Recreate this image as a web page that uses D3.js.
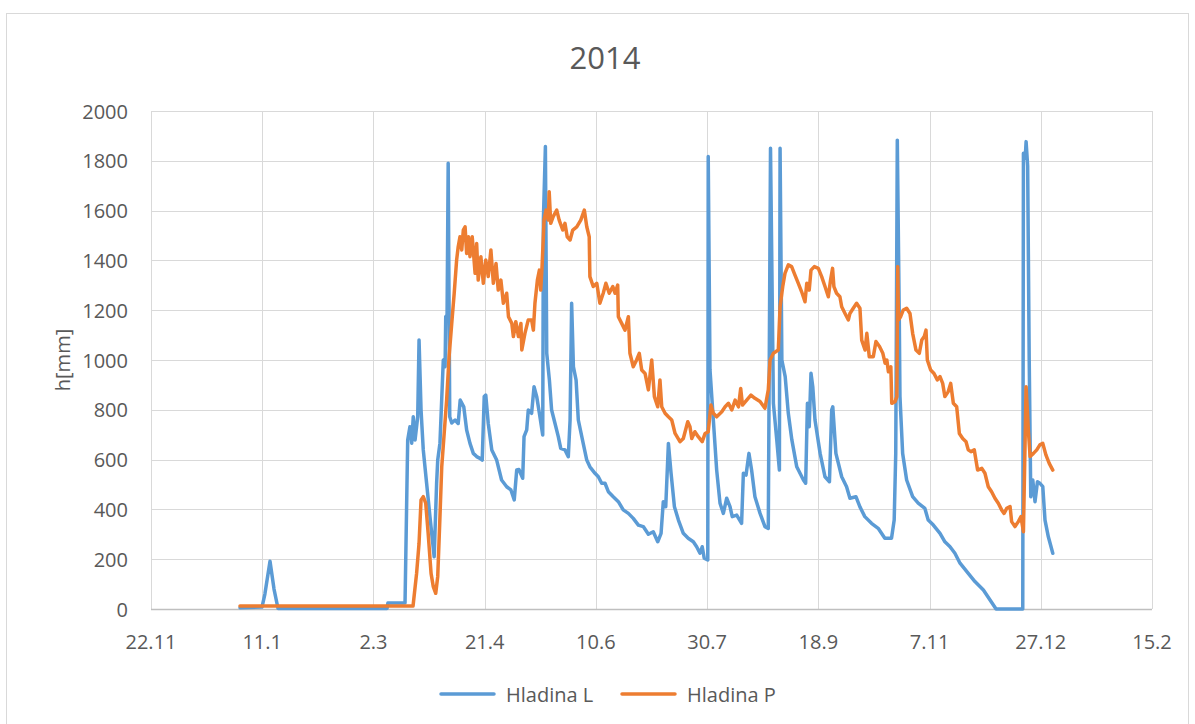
<!DOCTYPE html>
<html>
<head>
<meta charset="utf-8">
<script src="https://cdn.jsdelivr.net/npm/d3@7"></script>
<style>
  html, body { margin: 0; padding: 0; background: #ffffff; }
  svg { display: block; }
  text { font-family: "Open Sans", "Noto Sans", sans-serif; fill: #595959; }
</style>
</head>
<body>
<svg id="chart" width="1195" height="724"></svg>
<script>
// Water levels in 2014, day offset from 1 January 2014 and level in mm
const hladinaL = [[0,5],[9.9,8],[11.2,60],[13.5,192],[15.3,80],[17.1,2],[66.1,2],[66.5,24],[74.2,24],[75.4,679],[76.4,732],[77.2,666],[77.9,772],[78.7,679],[79.9,772],[80.5,1080],[81.4,799],[82.4,639],[83.9,505],[85.4,371],[87.3,210],[88.4,505],[88.9,598],[89.9,666],[91.4,1000],[92.2,973],[92.5,1174],[93.1,1180],[93.6,1790],[94.3,772],[95.2,747],[96.7,759],[98.1,745],[99.0,839],[100.6,812],[101.9,719],[103.4,665],[104.9,625],[106.4,612],[107.9,605],[108.9,598],[109.8,853],[110.5,859],[111.6,746],[113.2,639],[115.4,598],[117.6,518],[119.9,491],[121.8,478],[123.3,438],[124.4,558],[125.4,560],[127.1,525],[127.7,692],[128.9,719],[129.6,799],[131.1,786],[132.2,893],[133.4,853],[134.6,786],[136.1,699],[136.4,1562],[137.3,1857],[137.9,1027],[139.1,919],[140.1,799],[141.6,746],[143.1,692],[144.2,645],[146.1,639],[147.6,612],[148.4,759],[149.1,1228],[149.9,973],[151.1,919],[152.1,759],[154.3,665],[155.9,598],[157.3,571],[159.6,545],[161.1,531],[162.6,505],[164.1,505],[165.6,471],[167.8,451],[170.1,431],[172.3,398],[174.6,384],[176.8,364],[179.1,337],[181.3,331],[183.6,300],[185.8,310],[187.8,270],[189.3,304],[190.3,431],[191.4,411],[192.6,665],[193.8,545],[195.3,411],[197.1,357],[199.3,304],[201.5,284],[203.8,270],[205.3,250],[206.8,224],[207.8,250],[208.7,204],[210.3,197],[210.5,1817],[211.3,960],[212.8,759],[214.3,558],[215.8,425],[217.3,384],[218.8,445],[220.3,411],[221.3,371],[223.3,377],[225.5,344],[226.3,545],[227.5,538],[228.8,625],[230.0,558],[231.5,451],[233.8,384],[236.0,331],[237.5,324],[238.5,1850],[239.8,826],[241.3,680],[242.5,558],[242.8,1850],[243.6,1000],[245.1,933],[246.5,786],[248.1,679],[250.3,571],[253.3,518],[254.3,505],[255.1,826],[255.9,732],[256.7,947],[257.5,893],[258.5,759],[260.8,625],[263.0,531],[265.0,511],[266.0,799],[266.5,812],[267.9,625],[270.5,531],[272.7,491],[274.2,445],[276.9,451],[278.7,410],[280.9,371],[283.9,344],[286.9,324],[289.9,284],[292.9,284],[294.1,357],[294.8,625],[295.5,1883],[296.4,1160],[296.7,853],[297.9,625],[299.7,518],[302.4,451],[304.9,425],[307.9,404],[309.4,357],[311.7,337],[314.7,304],[316.9,270],[319.2,250],[321.4,224],[323.7,184],[327.4,143],[330.4,110],[334.2,76],[337.2,36],[339.9,0],[351.9,0],[352.2,1830],[353.0,1810],[353.4,1877],[354.1,1780],[354.8,1000],[355.5,451],[356.4,518],[357.4,431],[358.5,511],[359.6,505],[360.9,491],[361.9,357],[363.4,290],[365.4,224]];

const hladinaP = [[0,12],[77.8,12],[79.4,143],[80.5,264],[81.4,438],[82.4,451],[83.5,425],[84.6,304],[85.9,143],[86.9,90],[88.0,63],[88.9,130],[89.9,371],[90.7,571],[91.8,705],[92.9,839],[94.0,1013],[95.2,1147],[96.3,1268],[97.4,1402],[98.1,1455],[98.9,1495],[99.7,1442],[100.4,1522],[101.2,1535],[101.9,1428],[102.7,1495],[103.4,1415],[104.4,1495],[105.7,1348],[106.4,1468],[107.1,1321],[108.3,1415],[109.4,1308],[110.5,1402],[111.6,1335],[112.8,1442],[113.9,1308],[115.1,1388],[116.1,1281],[117.3,1321],[118.4,1228],[119.9,1268],[120.7,1174],[122.2,1147],[122.9,1094],[124.0,1154],[125.2,1094],[126.3,1147],[126.7,1040],[128.1,1107],[129.6,1161],[131.1,1161],[131.9,1120],[132.6,1228],[133.7,1321],[134.6,1361],[135.2,1281],[135.8,1375],[136.7,1562],[137.6,1602],[138.6,1562],[139.0,1676],[139.7,1549],[140.8,1576],[142.4,1602],[143.5,1562],[145.1,1522],[146.1,1549],[147.1,1495],[148.4,1482],[149.6,1522],[151.4,1535],[153.2,1562],[154.8,1602],[155.9,1535],[157.0,1495],[157.3,1335],[158.8,1295],[160.4,1308],[161.8,1228],[163.3,1268],[164.5,1308],[166.0,1268],[167.6,1295],[168.6,1268],[169.8,1301],[170.1,1174],[171.6,1147],[173.1,1120],[174.6,1174],[175.3,1027],[176.8,973],[178.3,1000],[179.5,1027],[180.6,960],[182.1,946],[183.6,880],[185.1,1000],[186.3,853],[187.8,812],[188.8,920],[189.6,812],[191.1,786],[192.6,772],[194.1,759],[195.6,705],[197.8,672],[199.3,685],[201.3,752],[202.3,732],[203.1,685],[204.5,712],[206.0,692],[207.8,672],[209.1,705],[210.5,712],[211.7,819],[212.8,786],[214.3,772],[216.6,792],[218.1,812],[219.6,826],[221.1,799],[222.6,839],[224.1,812],[225.1,886],[225.9,819],[227.8,839],[229.7,859],[231.5,846],[233.8,833],[236.0,806],[237.5,880],[238.3,1000],[239.8,1027],[242.0,1040],[242.8,1214],[244.0,1295],[245.0,1348],[246.5,1382],[248.0,1375],[249.5,1341],[251.0,1308],[252.5,1274],[254.0,1234],[254.8,1308],[255.9,1281],[256.7,1361],[258.2,1375],[260.0,1368],[261.5,1335],[263.0,1295],[264.5,1254],[265.5,1321],[266.4,1368],[267.0,1295],[268.2,1268],[269.7,1254],[270.5,1214],[272.0,1187],[273.5,1161],[274.2,1187],[275.7,1208],[277.2,1228],[278.7,1208],[279.5,1080],[281.0,1040],[281.8,1107],[282.9,1013],[284.7,1013],[285.9,1074],[287.5,1054],[289.0,1027],[290.0,987],[290.8,1000],[291.5,953],[292.6,973],[293.0,826],[294.5,833],[295.3,853],[295.7,1375],[296.0,1161],[297.0,1174],[298.2,1201],[299.7,1208],[301.2,1187],[302.4,1107],[303.9,1040],[305.4,1027],[306.5,1080],[307.6,1094],[308.4,1120],[309.0,1000],[310.5,960],[312.0,946],[313.5,920],[314.7,933],[315.9,906],[316.9,853],[318.4,873],[319.5,906],[320.7,826],[322.2,812],[323.4,705],[324.9,685],[326.4,672],[327.4,639],[328.6,632],[330.1,639],[331.6,558],[333.5,565],[334.9,545],[336.4,491],[337.9,471],[339.4,445],[340.9,425],[342.4,398],[343.5,384],[344.7,404],[346.2,411],[346.9,351],[348.4,331],[349.9,351],[351.1,371],[352.2,310],[353.4,893],[354.4,719],[355.2,612],[356.7,625],[358.2,639],[359.6,659],[360.9,665],[362.3,619],[363.8,585],[365.4,558]];

const seriesNames = ["Hladina L", "Hladina P"];
const seriesColors = ["#5B9BD5", "#ED7D31"];
const chartTitle = "2014";
const yTitle = "h[mm]";
const yTicks = [0, 200, 400, 600, 800, 1000, 1200, 1400, 1600, 1800, 2000];
// x ticks every 50 days starting 22.11.2013
const xTickStart = Date.UTC(2013, 10, 22);
const xTickStep = 50;
const xTickCount = 10;

const DAY = 86400000;
const yearStart = Date.UTC(2014, 0, 1);
const toDate = d => new Date(yearStart + d * DAY);

const svg = d3.select("#chart");
const plot = { left: 151, right: 1152, top: 111, bottom: 609 };

const xTickDates = d3.range(xTickCount).map(i => new Date(xTickStart + i * xTickStep * DAY));
const x = d3.scaleUtc()
  .domain([xTickDates[0], xTickDates[xTickDates.length - 1]])
  .range([plot.left, plot.right]);
const y = d3.scaleLinear().domain([0, 2000]).range([plot.bottom, plot.top]);

// chart area border
svg.append("rect")
  .attr("x", 6.5).attr("y", 13.5)
  .attr("width", 1182).attr("height", 716)
  .attr("fill", "#ffffff").attr("stroke", "#d9d9d9").attr("stroke-width", 1);

// horizontal gridlines
svg.append("g")
  .selectAll("line")
  .data(yTicks.filter(t => t > 0))
  .join("line")
  .attr("x1", plot.left).attr("x2", plot.right)
  .attr("y1", d => Math.round(y(d)) + 0.5).attr("y2", d => Math.round(y(d)) + 0.5)
  .attr("stroke", "#d9d9d9").attr("stroke-width", 1);

// vertical gridlines
svg.append("g")
  .selectAll("line")
  .data(xTickDates)
  .join("line")
  .attr("x1", d => Math.round(x(d)) + 0.5).attr("x2", d => Math.round(x(d)) + 0.5)
  .attr("y1", plot.top).attr("y2", plot.bottom)
  .attr("stroke", "#d9d9d9").attr("stroke-width", 1);

// x axis line
svg.append("line")
  .attr("x1", plot.left).attr("x2", plot.right)
  .attr("y1", plot.bottom + 0.5).attr("y2", plot.bottom + 0.5)
  .attr("stroke", "#bfbfbf").attr("stroke-width", 1.5);

// y tick labels
svg.append("g")
  .selectAll("text")
  .data(yTicks)
  .join("text")
  .attr("x", 128)
  .attr("y", d => y(d))
  .attr("text-anchor", "end")
  .attr("dominant-baseline", "central")
  .attr("font-size", 20)
  .text(d => d);

// x tick labels
const fmt = d3.utcFormat("%-d.%-m");
svg.append("g")
  .selectAll("text")
  .data(xTickDates)
  .join("text")
  .attr("x", d => x(d))
  .attr("y", 641)
  .attr("text-anchor", "middle")
  .attr("dominant-baseline", "central")
  .attr("font-size", 20)
  .text(d => fmt(d));

// title
svg.append("text")
  .attr("x", 605).attr("y", 57)
  .attr("text-anchor", "middle")
  .attr("dominant-baseline", "central")
  .attr("font-size", 31)
  .text(chartTitle);

// y axis title
svg.append("text")
  .attr("transform", "translate(62,360) rotate(-90)")
  .attr("text-anchor", "middle")
  .attr("dominant-baseline", "central")
  .attr("font-size", 20)
  .text(yTitle);

// series lines
const line = d3.line()
  .x(d => x(toDate(d[0])))
  .y(d => y(d[1]));

[hladinaL, hladinaP].forEach((series, i) => {
  svg.append("path")
    .datum(series)
    .attr("d", line)
    .attr("fill", "none")
    .attr("stroke", seriesColors[i])
    .attr("stroke-width", 3.5)
    .attr("stroke-linejoin", "round")
    .attr("stroke-linecap", "round");
});

// legend
const legendItems = [
  { x: 441, name: seriesNames[0], color: seriesColors[0] },
  { x: 622, name: seriesNames[1], color: seriesColors[1] }
];
const lg = svg.append("g");
legendItems.forEach(it => {
  lg.append("line")
    .attr("x1", it.x).attr("x2", it.x + 53)
    .attr("y1", 694).attr("y2", 694)
    .attr("stroke", it.color).attr("stroke-width", 3.5)
    .attr("stroke-linecap", "round");
  lg.append("text")
    .attr("x", it.x + 65).attr("y", 694)
    .attr("dominant-baseline", "central")
    .attr("font-size", 20)
    .text(it.name);
});
</script>
</body>
</html>
